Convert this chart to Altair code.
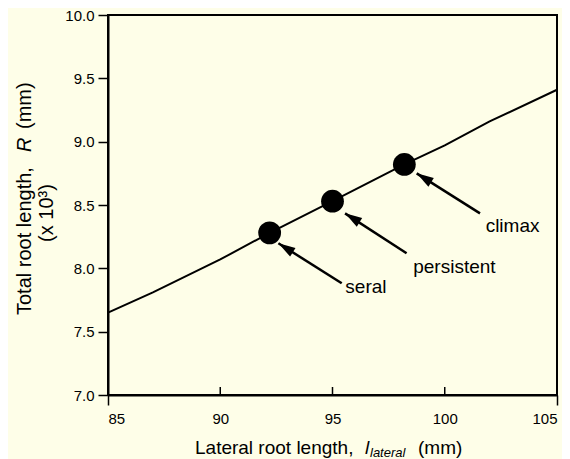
import altair as alt
import pandas as pd

# ---- data ----
line_x = [85, 87, 90, 92.2, 95, 98.2, 100, 102, 105]
line_y = [7.65, 7.81, 8.07, 8.28, 8.53, 8.82, 8.97, 9.16, 9.41]

stage_names = ["seral", "persistent", "climax"]
stage_x = [92.2, 95.0, 98.2]
stage_y = [8.28, 8.53, 8.82]

arrow_tip_x = [92.59, 95.56, 98.75]
arrow_tip_y = [8.198, 8.434, 8.750]
arrow_tail_x = [95.41, 98.30, 101.57]
arrow_tail_y = [7.882, 8.119, 8.434]

label_x = [96.49, 100.43, 103.02]
label_y = [7.85, 8.01, 8.334]

x_ticks = [85, 90, 95, 100, 105]
y_ticks = [7.0, 7.5, 8.0, 8.5, 9.0, 9.5, 10.0]

BG = "#fefee8"
FONT = "Liberation Sans"

line_df = pd.DataFrame({"x": line_x, "y": line_y})
pts_df = pd.DataFrame({"name": stage_names, "x": stage_x, "y": stage_y})
arr_df = pd.DataFrame({"name": stage_names, "tx": arrow_tip_x, "ty": arrow_tip_y,
                       "sx": arrow_tail_x, "sy": arrow_tail_y})
lab_df = pd.DataFrame({"name": stage_names, "x": label_x, "y": label_y})
tick_df = pd.DataFrame({"x": x_ticks[1:-1]})

xs = alt.Scale(domain=[85, 105], nice=False, zero=False)
ys = alt.Scale(domain=[7.0, 10.0], nice=False, zero=False)

x_axis = alt.Axis(values=x_ticks, title=None, labelFontSize=15, tickSize=10,
                  tickWidth=1.5, domainWidth=2, domainColor="black",
                  tickColor={"condition": {"test": "datum.value == 85 || datum.value == 105",
                                           "value": "black"}, "value": "transparent"},
                  labelColor="black", labelPadding=6, grid=False, labelFont=FONT)
y_axis = alt.Axis(values=y_ticks, format=".1f", title=None, labelFontSize=15,
                  tickSize=10, tickWidth=1.5, domainWidth=2, domainColor="black",
                  tickColor="black", labelColor="black", labelPadding=4, grid=False,
                  labelFont=FONT)

base_line = alt.Chart(line_df).mark_line(color="black", strokeWidth=2).encode(
    x=alt.X("x:Q", scale=xs, axis=x_axis),
    y=alt.Y("y:Q", scale=ys, axis=y_axis),
)

points = alt.Chart(pts_df).mark_circle(color="black", size=520, opacity=1).encode(
    x=alt.X("x:Q", scale=xs), y=alt.Y("y:Q", scale=ys))

shafts = alt.Chart(arr_df).mark_rule(color="black", strokeWidth=2.5).encode(
    x=alt.X("sx:Q", scale=xs), y=alt.Y("sy:Q", scale=ys),
    x2="tx:Q", y2="ty:Q")

heads = alt.Chart(arr_df).mark_point(
    shape="M0,0 L0.6,2 L-0.6,2 Z", filled=True, color="black", opacity=1,
    size=289, angle=302, strokeWidth=0).encode(
    x=alt.X("tx:Q", scale=xs), y=alt.Y("ty:Q", scale=ys))

labels = alt.Chart(lab_df).mark_text(fontSize=19, font=FONT, color="black",
                                     align="center", baseline="middle").encode(
    x=alt.X("x:Q", scale=xs), y=alt.Y("y:Q", scale=ys), text="name:N")

inner_ticks = alt.Chart(tick_df).mark_rule(color="black", strokeWidth=1.5).encode(
    x=alt.X("x:Q", scale=xs), y=alt.value(380), y2=alt.value(372))

# axis title pieces (mixed italic / subscript), placed in pixels
title_pieces = [
    # text, x, y, angle, style, size, align
    ("Lateral root length,", 87, 439, 0, "normal", 19, "left"),
    ("l", 257, 439, 0, "italic", 19, "left"),
    ("lateral", 262, 442, 0, "italic", 13, "left"),
    ("(mm)", 310, 439, 0, "normal", 19, "left"),
    ("Total root length,", -77, 300, 270, "normal", 20, "left"),
    ("R", -77, 137, 270, "italic", 20, "left"),
    ("(mm)", -77, 114, 270, "normal", 20, "left"),
    ("(x 10\u00b3)", -55, 198, 270, "normal", 20, "center"),
]
one = pd.DataFrame({"k": [0]})
title_layers = []
for txt, px, py, ang, sty, sz, al in title_pieces:
    title_layers.append(
        alt.Chart(one).mark_text(text=txt, fontSize=sz, font=FONT, color="black",
                                 fontStyle=sty, angle=ang, align=al,
                                 baseline="alphabetic").encode(
            x=alt.value(px), y=alt.value(py)))

chart = alt.layer(base_line, inner_ticks, shafts, heads, points, labels,
                  *title_layers).properties(
    width=449, height=380,
    autosize=alt.AutoSizeParams(type="none"),
    padding={"left": 100, "top": 7, "right": 5, "bottom": 64},
    background=BG,
).configure_view(stroke="black", strokeWidth=2, fill=BG)

chart.save("out.html", embed_options={"renderer": "svg", "actions": False})
